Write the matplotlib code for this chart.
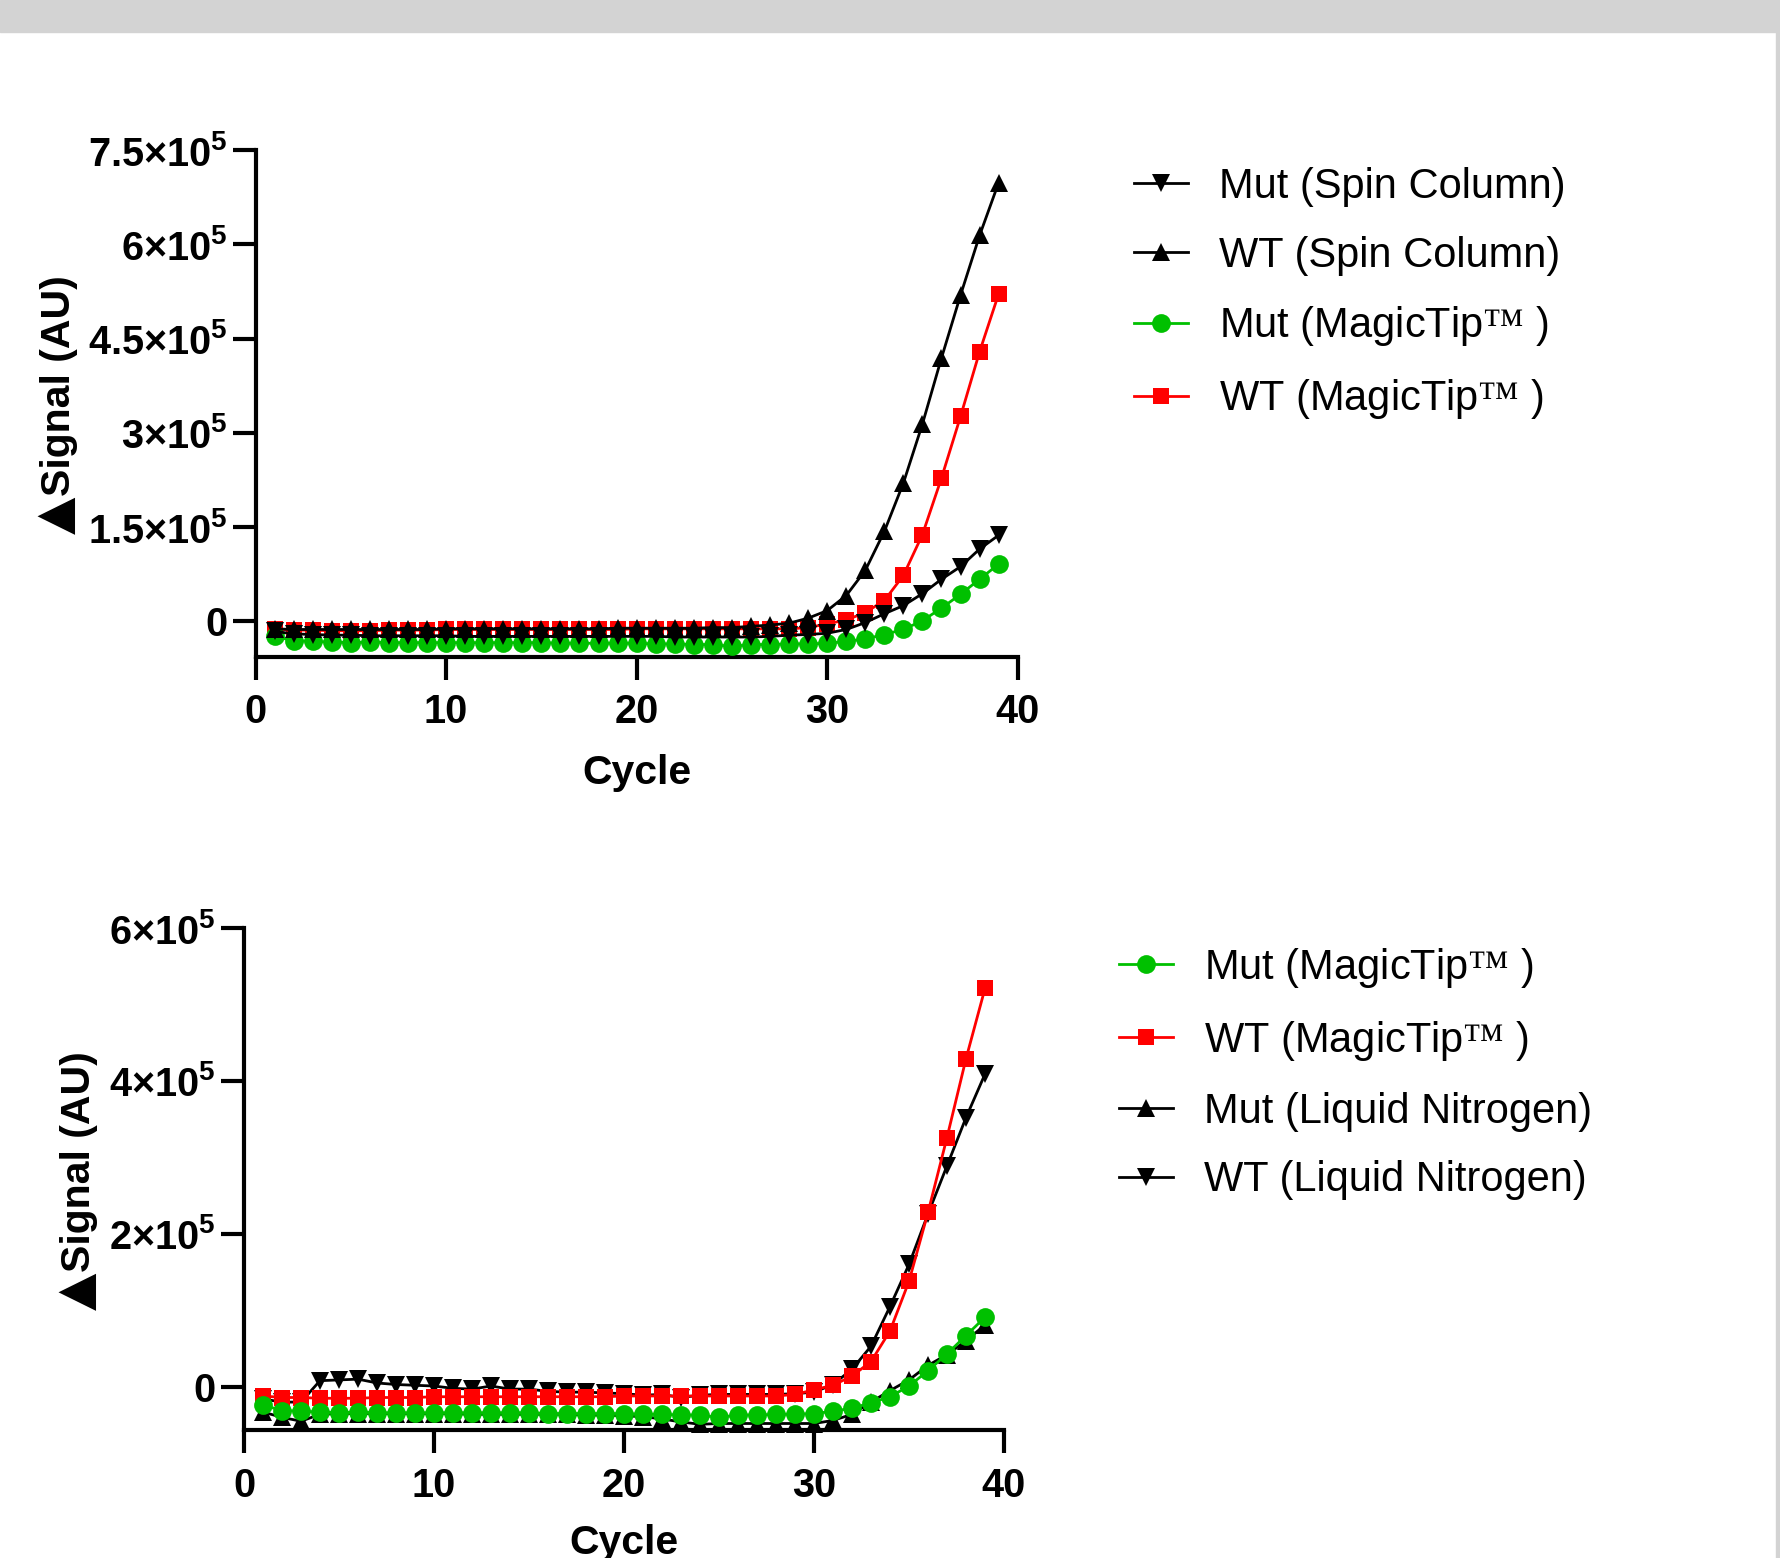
import matplotlib
matplotlib.use('Agg')
import matplotlib.pyplot as plt
from matplotlib.patches import Rectangle

plt.rcParams['font.family'] = ['Liberation Sans', 'DejaVu Sans']
plt.rcParams['mathtext.fontset'] = 'custom'
plt.rcParams['mathtext.rm'] = 'Liberation Serif'
plt.rcParams['mathtext.bf'] = 'Liberation Sans:bold'

# ---------------- data (signal values, AU) ----------------
cycles = list(range(1, 40))

# top panel
top_mut_spin = [-16, -20, -21, -22, -22, -23, -23, -23, -23, -23, -24, -24, -24, -24, -24, -24, -24, -24, -24, -24,
                -24, -25, -25, -25, -25, -25, -24, -22, -21, -19, -13, -2, 12, 25, 44, 67, 87, 115, 137]
top_wt_spin = [-12, -13, -13, -13, -13, -13, -13, -13, -13, -12, -12, -12, -12, -12, -12, -12, -12, -12, -11, -11,
               -11, -11, -11, -10, -10, -8, -6, -3, 5, 17, 41, 81, 143, 220, 314, 419, 519, 614, 698]
mut_magictip = [-24, -31, -32, -33, -34, -33, -34, -34, -34, -34, -34, -34, -34, -34, -34, -35, -35, -35, -35, -35,
                -36, -36, -37, -37, -40, -37, -37, -36, -36, -35, -32, -28, -21, -13, 1, 21, 43, 67, 91]
wt_magictip = [-12, -14, -14, -15, -15, -15, -14, -14, -14, -13, -13, -13, -13, -13, -13, -13, -13, -13, -13, -12,
               -12, -12, -12, -12, -12, -12, -12, -12, -10, -4, 2, 14, 33, 73, 138, 228, 326, 429, 521]

# bottom panel (MagicTip series shared with top panel)
bot_mut_ln = [-33, -40, -45, -36, -35, -35, -35, -35, -35, -35, -35, -36, -36, -36, -36, -36, -36, -37, -37, -38,
              -39, -42, -46, -49, -48, -48, -48, -48, -48, -48, -44, -36, -20, -5, 9, 28, 42, 60, 81]
bot_wt_ln = [-16, -20, -20, 8, 9, 10, 5, 3, 2, 1, -2, -3, 1, -3, -3, -6, -7, -7, -8, -9,
             -11, -10, -14, -11, -10, -10, -10, -10, -9, -7, 3, 23, 53, 105, 160, 226, 289, 352, 409]
scale = 1000

top_labels = ['Mut (Spin Column)', 'WT (Spin Column)',
              r'Mut (MagicTip$\mathrm{™}$ )', r'WT (MagicTip$\mathrm{™}$ )']
bot_labels = [r'Mut (MagicTip$\mathrm{™}$ )', r'WT (MagicTip$\mathrm{™}$ )',
              'Mut (Liquid Nitrogen)', 'WT (Liquid Nitrogen)']

xticks = [0, 10, 20, 30, 40]
xtick_labels = ['0', '10', '20', '30', '40']
top_yticks = [0, 150000, 300000, 450000, 600000, 750000]
top_ytick_labels = ['0', r'$\mathbf{1.5{\times}10^{5}}$', r'$\mathbf{3{\times}10^{5}}$',
                    r'$\mathbf{4.5{\times}10^{5}}$', r'$\mathbf{6{\times}10^{5}}$', r'$\mathbf{7.5{\times}10^{5}}$']
bot_yticks = [0, 200000, 400000, 600000]
bot_ytick_labels = ['0', r'$\mathbf{2{\times}10^{5}}$', r'$\mathbf{4{\times}10^{5}}$', r'$\mathbf{6{\times}10^{5}}$']
ylabel_text = 'Signal (AU)'
ylabel_mark = '▲'
xlabel_text = 'Cycle'

GREEN = '#00c000'
RED = '#ff0000'
BLACK = '#000000'

W, H = 1781, 1558
fig = plt.figure(figsize=(W / 100, H / 100), dpi=100)

# grey frame (screenshot border)
fig.patches.append(Rectangle((0, 1 - 32 / H), 1, 32 / H, transform=fig.transFigure,
                             color='#d3d3d3', zorder=0))
fig.patches.append(Rectangle((1 - 5 / W, 0), 5 / W, 1, transform=fig.transFigure,
                             color='#d3d3d3', zorder=0))


def px_axes(left, top, right, bottom):
    return fig.add_axes([left / W, 1 - bottom / H, (right - left) / W, (bottom - top) / H])


ax1 = px_axes(255.6, 150, 1017.7, 656.5)
ax2 = px_axes(244, 928, 1004, 1430)

LW = 2.0
MS_TRI = 13.5
MS_SQ = 12
MS_CIR = 13.5


def series(ax, y, color, marker, label, z, ms):
    ax.plot(cycles, [v * scale for v in y], color=color, lw=LW, marker=marker, ms=ms,
            mec=color, mfc=color, mew=0, label=label, zorder=z, clip_on=False)


# top panel series (first listed drawn on top)
series(ax1, top_mut_spin, BLACK, 'v', top_labels[0], 10, MS_TRI)
series(ax1, top_wt_spin, BLACK, '^', top_labels[1], 9, MS_TRI)
series(ax1, mut_magictip, GREEN, 'o', top_labels[2], 8, MS_CIR)
series(ax1, wt_magictip, RED, 's', top_labels[3], 7, MS_SQ)

series(ax2, mut_magictip, GREEN, 'o', bot_labels[0], 10, MS_CIR)
series(ax2, wt_magictip, RED, 's', bot_labels[1], 9, MS_SQ)
series(ax2, bot_mut_ln, BLACK, '^', bot_labels[2], 8, MS_TRI)
series(ax2, bot_wt_ln, BLACK, 'v', bot_labels[3], 7, MS_TRI)

for ax, yt, ytl, ymin, ymax in [(ax1, top_yticks, top_ytick_labels, -56000, 750000),
                                 (ax2, bot_yticks, bot_ytick_labels, -56500, 600000)]:
    ax.set_xlim(0, 40)
    ax.set_ylim(ymin, ymax)
    for s in ['top', 'right']:
        ax.spines[s].set_visible(False)
    for s in ['left', 'bottom']:
        ax.spines[s].set_linewidth(3.0)
        ax.spines[s].set_capstyle('projecting')
    ax.set_xticks(xticks)
    ax.set_xticklabels(xtick_labels, fontsize=28.5, fontweight='bold')
    ax.set_yticks(yt)
    ax.set_yticklabels(ytl, fontsize=28.5, fontweight='bold')
    ax.tick_params(axis='both', length=16.5, width=3.0, direction='out')
    ax.tick_params(axis='x', pad=10)
    ax.tick_params(axis='y', pad=4)
    ax.minorticks_off()
    ax.set_xlabel(xlabel_text, fontsize=29.5, fontweight='bold')
    ax.set_ylabel(ylabel_text, fontsize=29.5, fontweight='bold')
    ax.xaxis.label.set_verticalalignment('center')
    ax.yaxis.label.set_verticalalignment('center')

ax1.xaxis.set_label_coords(0.5, -0.23)
ax2.xaxis.set_label_coords(0.5, -0.225)
ax1.yaxis.set_label_coords(-0.2585, 0.534)
ax2.yaxis.set_label_coords(-0.2165, 0.534)

# large filled triangle (delta sign) leading the y-axis title
for ax in (ax1, ax2):
    ax.annotate(ylabel_mark, xy=(0.42, 0.0), xycoords=ax.yaxis.label, rotation=90,
                ha='center', va='top', fontsize=35, fontweight='bold',
                family=['DejaVu Sans'], annotation_clip=False)

leg_kw = dict(loc='upper left', frameon=False, fontsize=30, handlelength=1.31,
              handletextpad=0.74, labelspacing=0.69, borderpad=0, borderaxespad=0,
              bbox_transform=fig.transFigure)
ax1.legend(bbox_to_anchor=(1133.5 / W, 1 - 167 / H), **leg_kw)
ax2.legend(bbox_to_anchor=(1118.8 / W, 1 - 946 / H), **leg_kw)

fig.savefig('out.png', dpi=100, facecolor='white')
